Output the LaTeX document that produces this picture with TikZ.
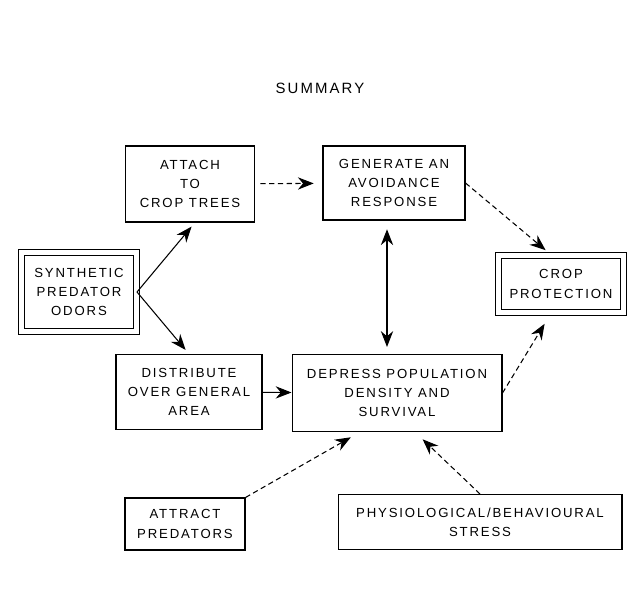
\documentclass[tikz,border=0pt]{standalone}
\usepackage{fontspec}
\newfontfamily\diagfont{Liberation Sans}[LetterSpace=14]
\usepackage{tikz}
\usetikzlibrary{arrows.meta, automata}

\begin{document}
\begin{tikzpicture}[x=0.02cm, y=-0.02cm, >={Stealth[length=9pt,width=7pt]},
                    semithick, font=\diagfont\fontsize{7.5}{11}\selectfont]
\tikzstyle{every state}=[shape=rectangle, draw, semithick, align=center,
                    inner sep=2pt, minimum size=0cm]
\tikzstyle{link}=[densely dashed]
  \useasboundingbox (0,0) rectangle (631,605);
  \node (summary) at (320,88) {\fontsize{8.5}{10}\selectfont SUMMARY};
  \node[state, minimum width=2.58cm, minimum height=1.52cm] (attach) at (190,184)
                            {ATTACH\\TO\\CROP TREES};
  \node[state, minimum width=2.84cm, minimum height=1.48cm] (generate) at (394,183)
                            {GENERATE AN\\AVOIDANCE\\RESPONSE};
  \node[state, double, double distance=3pt, minimum width=2.3cm,
        minimum height=1.58cm] (odors) at (79,292)
                            {SYNTHETIC\\PREDATOR\\ODORS};
  \node[state, double, double distance=3pt, minimum width=2.5cm,
        minimum height=1.15cm] (protection) at (561,284)
                            {CROP\\PROTECTION};
  \node[state, minimum width=2.92cm, minimum height=1.5cm] (distribute) at (189,392)
                            {DISTRIBUTE\\OVER GENERAL\\AREA};
  \node[state, minimum width=4.2cm, minimum height=1.54cm] (depress) at (397,393)
                            {DEPRESS POPULATION\\DENSITY AND\\SURVIVAL};
  \node[state, minimum width=2.4cm, minimum height=1.04cm] (attract) at (185,524)
                            {ATTRACT\\PREDATORS};
  \node[state, minimum width=5.68cm, minimum height=1.1cm] (stress) at (480,522)
                            {PHYSIOLOGICAL/BEHAVIOURAL\\STRESS};
  \path[->, link] (attach) edge[shorten <=3pt, shorten >=5pt] (generate);
  \path[->, link] (generate.east) edge[shorten >=4pt] ([xshift=-0.2cm]protection.north);
  \path[->]       (odors.east) edge[shorten >=3pt] ([xshift=0.1cm]attach.south);
  \path[->]       (odors.east) edge[shorten >=3pt] (distribute.north);
  \path[->]       (distribute) edge (depress);
  \draw[<->, shorten <=5pt, shorten >=4pt] ([xshift=-0.14cm]generate.south)
                            -- ([xshift=-0.14cm]generate.south |- depress.north);
  \path[->, link] (depress.east) edge[shorten >=7pt] ([xshift=-0.2cm]protection.south);
  \path[->, link] (attract.north east) edge[shorten >=6pt] ([xshift=-0.74cm]depress.south);
  \path[->, link] (stress.north) edge[shorten >=6pt] ([xshift=0.36cm]depress.south);
\end{tikzpicture}
\end{document}
